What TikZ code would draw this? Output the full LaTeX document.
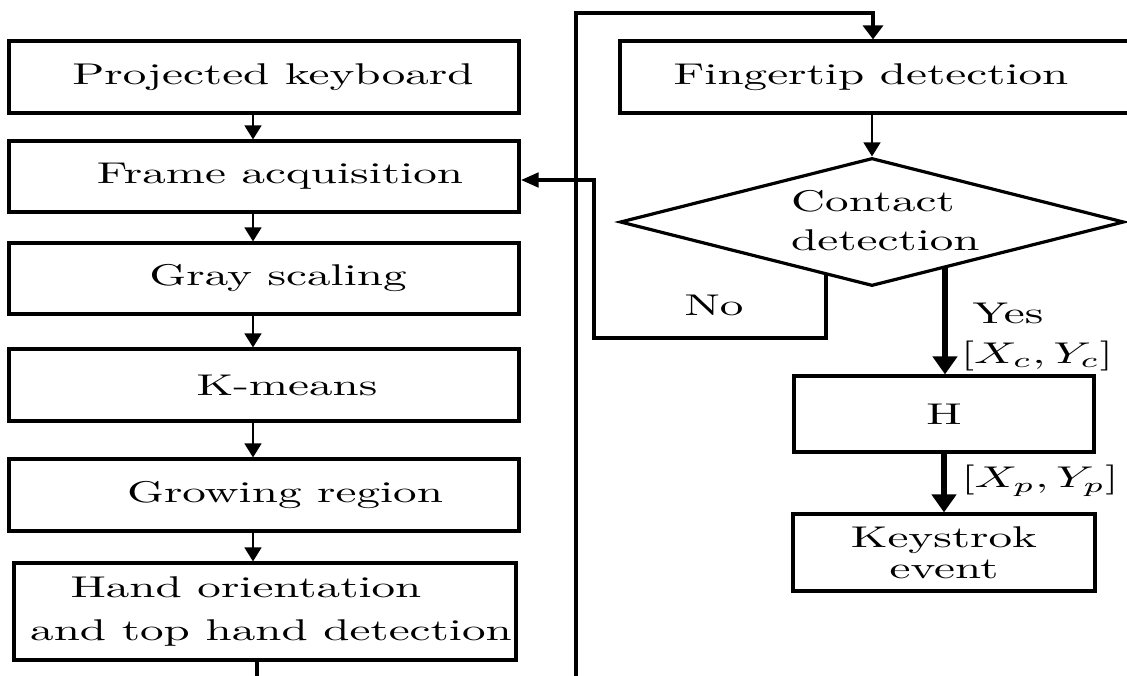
\documentclass[tikz,border=0pt]{standalone}
\usepackage{graphicx}
\usetikzlibrary{arrows.meta,shapes.geometric}
\newcommand{\T}[1]{\scalebox{4.71}[3]{\fontsize{10}{12}\selectfont #1}}
\newcommand{\gap}[1]{\rule{#1}{0pt}}
\begin{document}
\begin{tikzpicture}[x=1pt,y=-1pt,
  box/.style={draw,line width=3.2pt,inner sep=0pt,minimum width=510pt,minimum height=72pt,align=center},
  dec/.style={draw,diamond,line width=3.2pt,inner sep=0pt,minimum width=504pt,minimum height=128pt},
  lbl/.style={inner sep=0pt},
  tarrow/.style={line width=1.5pt,-{Triangle[width=17pt,length=14pt]}},
  loopline/.style={line width=4.5pt},
  bigarrow/.style={line width=5.5pt,-{Triangle[width=24pt,length=18pt]}}]
\useasboundingbox (0,0) rectangle (1127,676);
\fill[white] (0,0) rectangle (1127,676);
% left column
\node[box] (pk) at (264,77) {\gap{18pt}\T{Projected keyboard}};
\node[box,minimum height=71pt] (fa) at (264,176.5) {\gap{32pt}\T{Frame acquisition}};
\node[box,minimum height=71pt] (gs) at (264,278.5) {\gap{28pt}\T{Gray scaling}};
\node[box] (km) at (264,385) {\gap{46pt}\T{K-means}};
\node[box] (gr) at (264,495) {\gap{42pt}\T{Growing region}};
\node[box,minimum width=502pt,minimum height=97pt,font=\fontsize{10}{43}\selectfont] (ho) at (265,611.5) {\T{Hand orientation}\gap{38pt}\\\gap{12pt}\T{and top hand detection}};
% right column
\node[box,minimum width=520pt] (fp) at (880,77) {\T{Fingertip detection}\gap{18pt}};
\node[dec] (cd) at (872,222) {};
\node[lbl,anchor=west,align=left,font=\fontsize{10}{39}\selectfont] (cdt) at (791,221) {\T{Contact}\\\T{detection}};
\node[box,minimum width=300pt,minimum height=76pt] (hh) at (944,414) {\T{H}};
\node[box,minimum width=302pt,minimum height=77pt,font=\fontsize{10}{31}\selectfont] (ks) at (944,552.5) {\T{Keystrok}\\\T{event}};
% labels
\node[lbl] (no) at (714,305) {\T{No}};
\node[lbl] (yes) at (1008,313) {\T{Yes}};
\node[lbl] (xc) at (1037,356) {\T{$[X_c,Y_c]$}};
\node[lbl] (xp) at (1040,481) {\T{$[X_p,Y_p]$}};
% coordinates
\coordinate (hoend) at (257,690);
\coordinate (loopbot) at (576,690);
\coordinate (looptop) at (576,13);
\coordinate (nofrom) at (826,274);
\coordinate (nocorner) at (594,338);
\coordinate (yesfrom) at (945,268);
% connectors
\foreach \a/\b in {pk/fa,fa/gs,gs/km,km/gr}
  \draw[tarrow] ([xshift=-11pt]\a.south) -- ([xshift=-11pt]\b.north);
\draw[tarrow] ([xshift=-11pt]gr.south) -- ([xshift=-12pt]ho.north);
\draw[line width=4pt] ([xshift=-8pt]ho.south) -- (hoend);
\draw[loopline,-{Triangle[width=20pt,length=14pt]}] (loopbot) -- (looptop) -| ([xshift=-7pt]fp.north);
\draw[tarrow] ([xshift=-8pt]fp.south) -- (cd.north);
\draw[loopline,-{Triangle[width=14pt,length=18pt]}] (nofrom) |- (nocorner) |- ([yshift=-3.5pt]fa.east);
\draw[bigarrow] (yesfrom) -- (yesfrom |- hh.north);
\draw[bigarrow] (hh.south) -- (ks.north);
\end{tikzpicture}
\end{document}
